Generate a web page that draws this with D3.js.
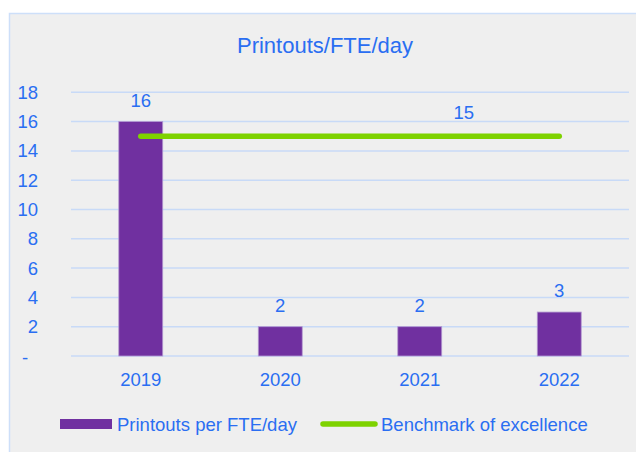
<!DOCTYPE html>
<html>
<head>
<meta charset="utf-8">
<script src="https://cdn.jsdelivr.net/npm/d3@7"></script>
<style>
  body { margin: 0; background: #ffffff; }
  text { font-family: "Liberation Sans", Arial, sans-serif; }
</style>
</head>
<body>
<div id="chart"></div>
<script>
// chart data
var years = ["2019", "2020", "2021", "2022"];
var printouts = [16, 2, 2, 3];
var benchmark = [15, 15, 15, 15];
var yTicks = [0, 2, 4, 6, 8, 10, 12, 14, 16, 18];
var legendLabels = ["Printouts per FTE/day", "Benchmark of excellence"];

var width = 636, height = 452;
var blue = "#2a6ef2";
var purple = "#7030a0";
var green = "#7ed200";
var fs = 18.5;

var svg = d3.select("#chart")
  .append("svg")
  .attr("width", width)
  .attr("height", height);

// chart area background + border
svg.append("rect")
  .attr("x", 9.5).attr("y", 13.5)
  .attr("width", width + 10).attr("height", height + 10)
  .attr("fill", "#efefef")
  .attr("stroke", "#cddff9")
  .attr("stroke-width", 1.5);

svg.append("text")
  .attr("x", 325).attr("y", 53)
  .attr("text-anchor", "middle")
  .attr("font-size", 22)
  .attr("fill", blue)
  .text("Printouts/FTE/day");

var x = d3.scaleBand()
  .domain(years)
  .range([71, 629])
  .paddingInner(0.685)
  .paddingOuter(0.3425);

var y = d3.scaleLinear()
  .domain([0, 18])
  .range([356, 92.3]);

// gridlines
svg.selectAll(".grid")
  .data(yTicks)
  .join("line")
  .attr("class", "grid")
  .attr("x1", 71).attr("x2", 629)
  .attr("y1", d => y(d)).attr("y2", d => y(d))
  .attr("stroke", "#c8daf7")
  .attr("stroke-width", 1.5);

// y tick labels
svg.selectAll(".ytick")
  .data(yTicks)
  .join("text")
  .attr("class", "ytick")
  .attr("x", d => d == 0 ? 22 : 38)
  .attr("y", d => d == 0 ? y(d) + 2 : y(d))
  .attr("dy", "0.35em")
  .attr("text-anchor", d => d == 0 ? "start" : "end")
  .attr("font-size", fs)
  .attr("fill", blue)
  .text(d => d == 0 ? "-" : d);

// bars
svg.selectAll(".bar")
  .data(printouts)
  .join("rect")
  .attr("class", "bar")
  .attr("x", (d, i) => x(years[i]))
  .attr("y", d => y(d))
  .attr("width", x.bandwidth())
  .attr("height", d => y(0) - y(d))
  .attr("fill", purple)
  .attr("stroke", "#b49ad0")
  .attr("stroke-width", 0.8);

svg.selectAll(".barlabel")
  .data(printouts)
  .join("text")
  .attr("class", "barlabel")
  .attr("x", (d, i) => x(years[i]) + x.bandwidth() / 2)
  .attr("y", d => y(d) - 15)
  .attr("text-anchor", "middle")
  .attr("font-size", fs)
  .attr("fill", blue)
  .text(d => d);

// benchmark line
var line = d3.line()
  .x((d, i) => x(years[i]) + x.bandwidth() / 2)
  .y(d => y(d));

svg.append("path")
  .datum(benchmark)
  .attr("d", line)
  .attr("fill", "none")
  .attr("stroke", green)
  .attr("stroke-width", 5.5)
  .attr("stroke-linecap", "round");

svg.append("text")
  .attr("x", x("2021") + x.bandwidth() / 2 + x.step() * 0.315)
  .attr("y", y(benchmark[2]) - 17)
  .attr("text-anchor", "middle")
  .attr("font-size", fs)
  .attr("fill", blue)
  .text(benchmark[2]);

// x labels
svg.selectAll(".xtick")
  .data(years)
  .join("text")
  .attr("class", "xtick")
  .attr("x", d => x(d) + x.bandwidth() / 2)
  .attr("y", 386)
  .attr("text-anchor", "middle")
  .attr("font-size", fs)
  .attr("fill", blue)
  .text(d => d);

// legend
var lg = svg.append("g");
lg.append("rect")
  .attr("x", 60).attr("y", 419)
  .attr("width", 52).attr("height", 10)
  .attr("fill", purple);
lg.append("text")
  .attr("x", 117).attr("y", 431)
  .attr("font-size", fs)
  .attr("fill", blue)
  .text(legendLabels[0]);
lg.append("line")
  .attr("x1", 323).attr("x2", 375)
  .attr("y1", 424).attr("y2", 424)
  .attr("stroke", green)
  .attr("stroke-width", 5.5)
  .attr("stroke-linecap", "round");
lg.append("text")
  .attr("x", 381).attr("y", 431)
  .attr("font-size", fs)
  .attr("fill", blue)
  .text(legendLabels[1]);
</script>
</body>
</html>
